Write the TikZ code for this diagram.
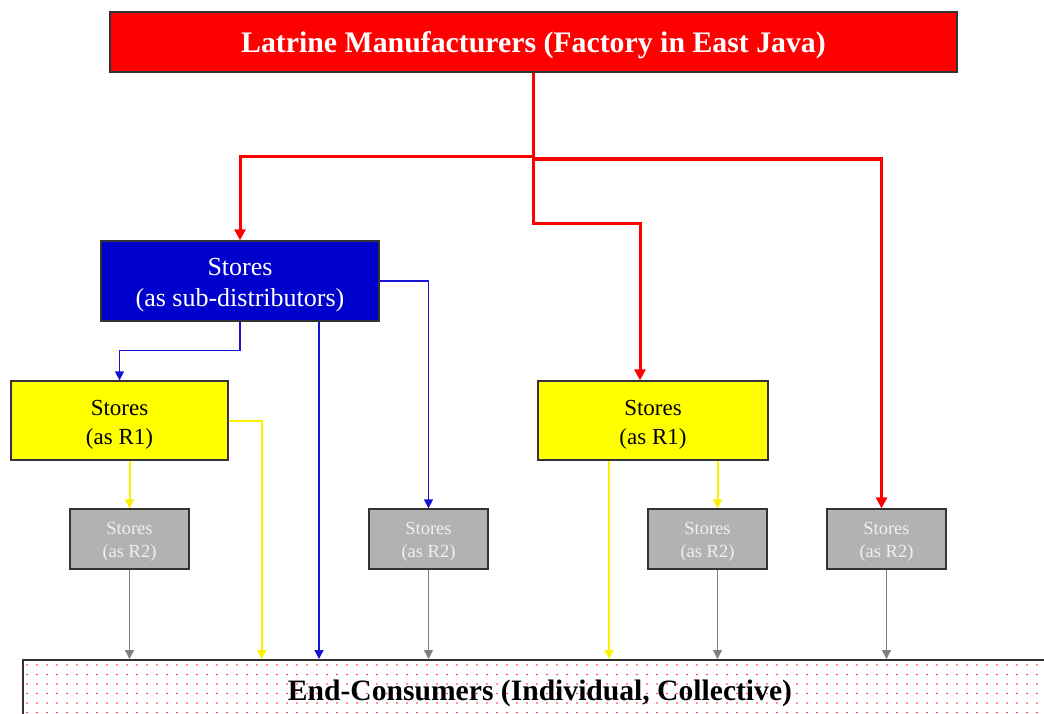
\documentclass[tikz,border=0pt]{standalone}
\usepackage{fontspec}
\setmainfont{Liberation Serif}
\usetikzlibrary{arrows.meta}
\definecolor{boxred}{RGB}{255,0,0}
\definecolor{boxblue}{RGB}{0,0,204}
\definecolor{boxyellow}{RGB}{255,255,0}
\definecolor{lineyellow}{RGB}{250,240,0}
\definecolor{boxgray}{RGB}{178,178,178}
\definecolor{edgegray}{RGB}{51,51,51}
\definecolor{linegray}{RGB}{128,128,128}
\definecolor{lineblue}{RGB}{20,20,210}
\definecolor{dotred}{RGB}{255,40,40}
% a strut that lowers a node's first line a little
\newcommand{\droptop}{\rule{0pt}{1em}}
\tikzset{
  box/.style={draw=edgegray, line width=1.3pt, rectangle, inner sep=0pt, align=center},
  topbox/.style={box, fill=boxred, text=white, font=\fontsize{29.8}{34}\selectfont\bfseries,
    minimum width=847pt, minimum height=60pt, text depth=0pt},
  subbox/.style={box, fill=boxblue, text=white, font=\fontsize{26}{31}\selectfont,
    minimum width=278pt, minimum height=80pt},
  ronebox/.style={box, fill=boxyellow, text=black, font=\fontsize{23}{29}\selectfont,
    minimum height=79pt},
  rtwobox/.style={box, fill=boxgray, text=white!94!black, font=\fontsize{18.5}{23}\selectfont,
    minimum width=119pt, minimum height=60pt},
  tip/.style={-{Triangle[length=9pt,width=9pt]}},
  redflow/.style={draw=boxred, line width=3pt, -{Triangle[length=11pt,width=11pt]}},
  blueflow/.style={tip, draw=lineblue, line width=1.3pt},
  yellowflow/.style={tip, draw=lineyellow, line width=2pt},
  grayflow/.style={tip, draw=linegray, line width=1.3pt},
}
\begin{document}
\begin{tikzpicture}[x=1pt, y=-1pt]
\useasboundingbox (0,0) rectangle (1044,713);
\fill[white] (0,0) rectangle (1044,713);

% end-consumers band with a red dotted fill
\begin{scope}
  \clip (0,0) rectangle (1044,713);
  \node[draw=edgegray, line width=1.6pt, fill=white, rectangle, inner sep=0pt,
        minimum width=1040pt, minimum height=70pt, anchor=north west] (cons) at (22,659) {};
  \foreach \i in {0,...,102} {
    \foreach \j in {0,...,5} {
      \fill[dotred] (27+10*\i, 665+9.5*\j) circle (0.9pt);
    }
  }
  \node[font=\fontsize{29.6}{34}\selectfont\bfseries, text depth=0pt]
    (constext) at (540,690) {End-Consumers (Individual, Collective)};
\end{scope}

% nodes
\node[topbox] (top) at (533.5,42) {Latrine Manufacturers (Factory in East Java)};
\node[subbox] (sub) at (240,281) {\droptop Stores\\(as sub-distributors)};
\node[ronebox, minimum width=217pt] (r1a) at (119.5,420.5) {\droptop Stores\\(as R1)};
\node[ronebox, minimum width=230pt] (r1b) at (653,420.5) {\droptop Stores\\(as R1)};
\node[rtwobox] (r2a) at (129.5,539) {\droptop Stores\\(as R2)};
\node[rtwobox] (r2b) at (428.5,539) {\droptop Stores\\(as R2)};
\node[rtwobox] (r2c) at (707.5,539) {\droptop Stores\\(as R2)};
\node[rtwobox] (r2d) at (886.5,539) {\droptop Stores\\(as R2)};

% red flows from the factory
\coordinate (split) at ([yshift=-84pt]top.south);
\coordinate (splitr) at ([yshift=-86pt]top.south);
\draw[redflow] (split) -| (sub.north);
\draw[redflow] (top.south) |- ([yshift=-151pt]top.south) -| ([xshift=-13pt]r1b.north);
\draw[redflow, line width=3.8pt] (splitr) -| ([xshift=-5pt]r2d.north);

% blue flows from the sub-distributor
\draw[blueflow] (sub.south) |- ([yshift=-29pt]sub.south) -| (r1a.north);
\draw[blueflow] ([xshift=79pt]sub.south) -- ([xshift=79pt]sub.south |- cons.north);
\draw[blueflow] (sub.east) -| (r2b.north);

% yellow flows from the R1 stores
\draw[yellowflow] (r1a.south -| r2a.north) -- (r2a.north);
\draw[yellowflow] (r1a.east) -| ([xshift=33pt]r1a.east |- cons.north);
\draw[yellowflow] ([xshift=-44pt]r1b.south) -- ([xshift=-44pt]r1b.south |- cons.north);
\draw[yellowflow] ([xshift=10pt]r2c.north |- r1b.south) -- ([xshift=10pt]r2c.north);

% gray flows from the R2 stores
\draw[grayflow] (r2a.south) -- (r2a.south |- cons.north);
\draw[grayflow] (r2b.south) -- (r2b.south |- cons.north);
\draw[grayflow] ([xshift=10pt]r2c.south) -- ([xshift=10pt]r2c.south |- cons.north);
\draw[grayflow] (r2d.south) -- (r2d.south |- cons.north);
\end{tikzpicture}
\end{document}
